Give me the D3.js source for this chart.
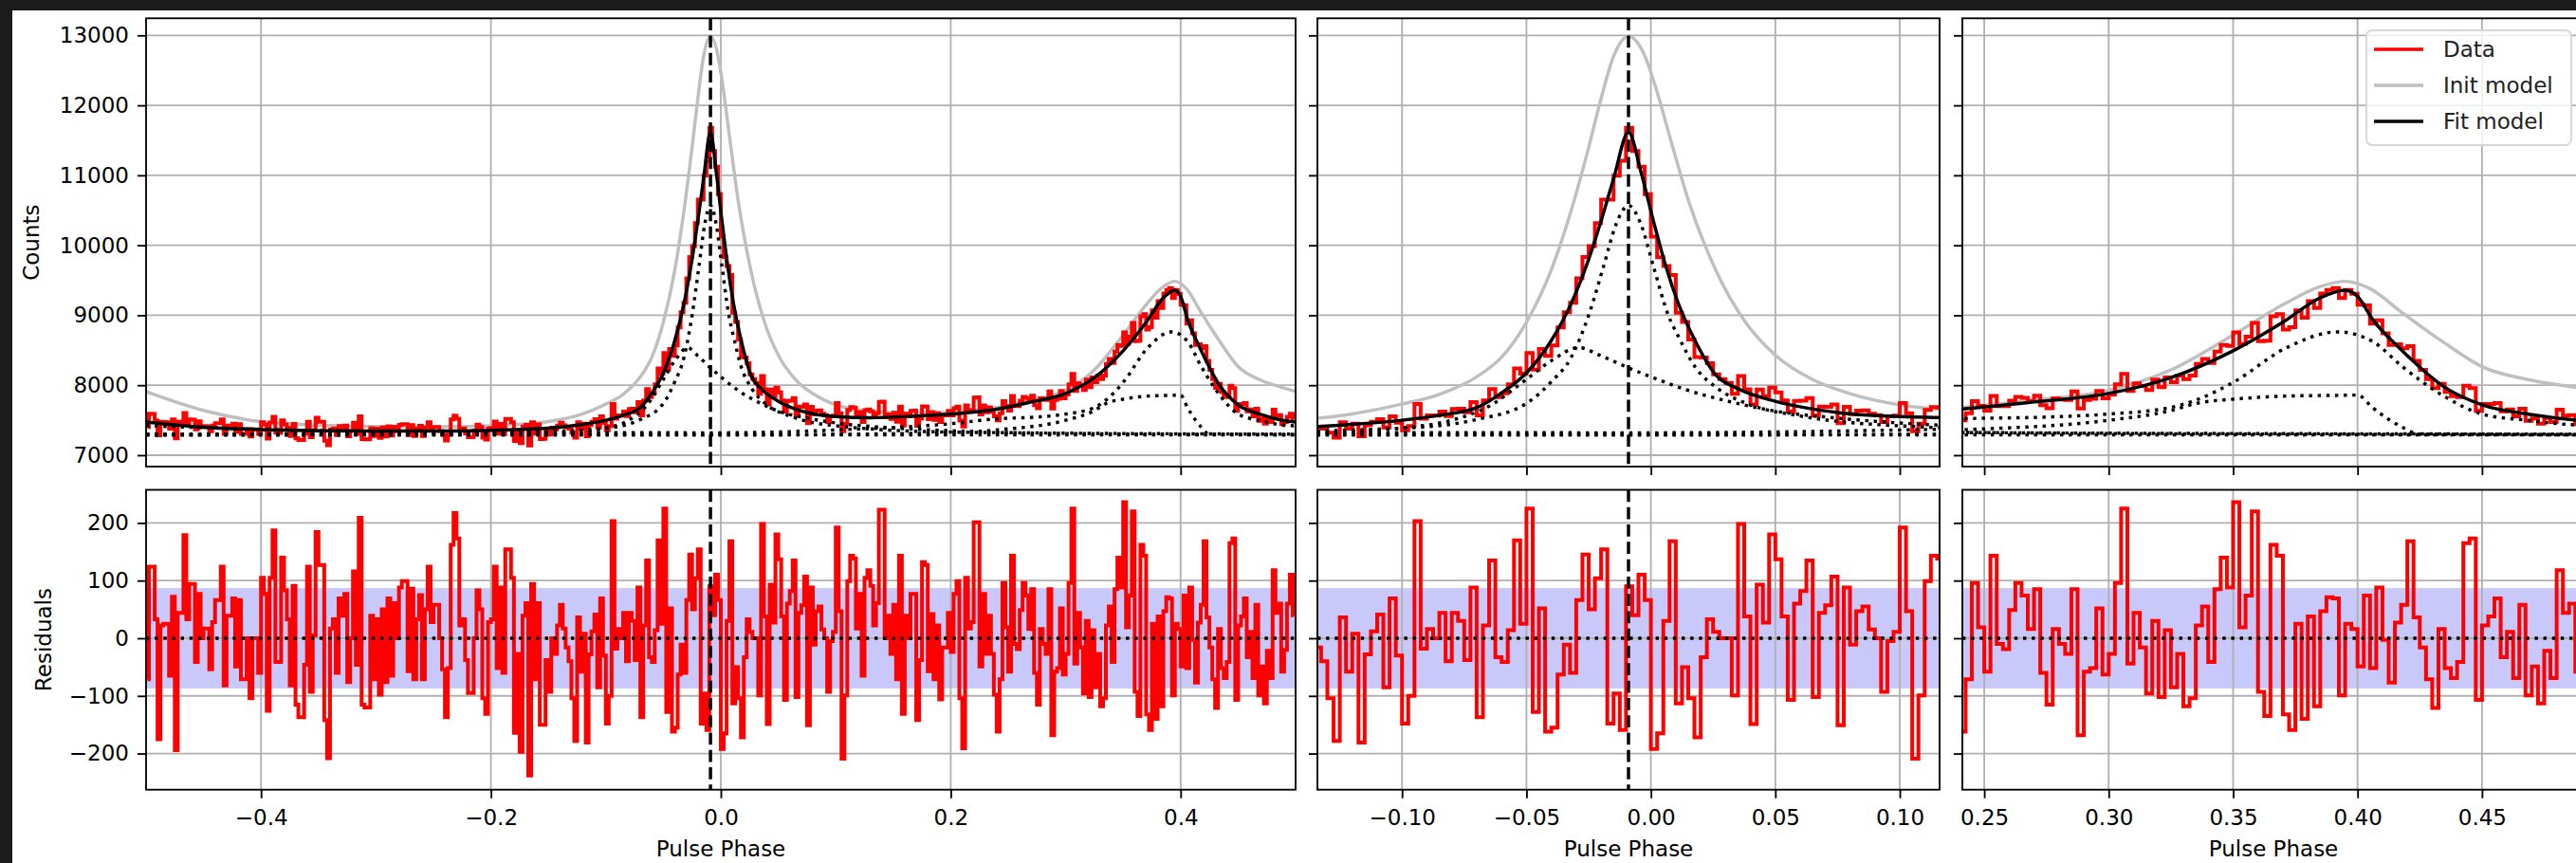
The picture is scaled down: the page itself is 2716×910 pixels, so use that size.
<!DOCTYPE html>
<html>
<head>
<meta charset="utf-8">
<script src="https://cdn.jsdelivr.net/npm/d3@7"></script>
<style>
  body { margin: 0; background: #1c1c1c; }
  svg { display: block; }
</style>
</head>
<body>
<svg id="chart" width="2716" height="910"></svg>
<script>

// ---- data ----
const phaseBinWidth = 0.0025;
const peakPhase = -0.009;
const residBand = 87;

// residuals per phase bin, left to right (-0.5 .. 0.5)
const residFarLeft = [-71, 124, 124, 33, -175, 22, 25, 25, -65, 72, -194, 44, 44,
    179, 33, 94, 94, -41, 77, 0, 17, 17, -54, 28, 66, 66,
    124, -82, 39, 39, 69, -49, 66, -71, -71, 0, -104, 0, 0,
    -60, 105, 77, -126, 105, 187, -41, -41, 140, 83, 33,
    -82, 91, -115, -137, -137, -46, 124, -93, 5, 184, 127, 127,
    -142, -208, 17, 33, -60, 69, 39, 77, -76, 0, 116];
const residLeft = [-46, 209, -115, -120, -120, 39, -71, 33, -98, 50, -76,
    69, -65, 61, 0, 88, 99, 99, -57, 86, -71, 33,
    75, -71, 50, 124, 28, 58, 58, 0, -54, -137, -52,
    162, 217, 173, 22, 33, -38, -95, -95, 0, 83, 50,
    -104, -131, 28, 33, 124, -52, 88, -60, 154, 154, 105,
    -164, -27, -197, 39, 61, -238, 94, -71, 61, -150, -150,
    -38, -93, 0, -27, 22, 58, 17];
const residCore = [-16, -40, -104, -178, 36, -58, 8, -181, -28, 12,
    41, -85, 69, -30, -148, -100, 203, -18, 16, 0,
    44, -40, 44, 30, -38, 88, -137, 22, 135, -33,
    -41, 14, 170, 25, 225, -128, 52, -162, -155, -63,
    -11, -60, 66, 145, 50, 104, 154, -148, -96, -159,
    90, 40, 110, 66, -192, -165, 30, 168, -113, -50,
    -104, -172, -33, 33, 11, 0, 0, -99, 198, 38,
    -149, 93, 27, 180, 137, 38, -107, 60, 82, 135,
    -102, 44, 57, 107, -151, 88, -11, 47, 55, 15,
    0, -93, -5, 11, 192, 47, -209, -99, 99, 143];
const residGap = [138, 17, 77, -65, 105, 118, 91, 22, 61, 223, 223,
    0, 39, -27, 58, -71, 143, -131, 39, 0, 77, 77,
    -142, -38, 132, 127, -57, 42, -71, 22, -106, -16, -16,
    44, -24, 77, 99, -104, -191, 105, 17, 28, 201, 201,
    -49, 77, -27, 39, -27, -98];
const residTail = [-162, -71, 96, 19, -58, 143, -10, -19, 49, 96,
    74, 16, 85, -60, -115, 16, -10, -27, 85, -168,
    -58, -52, 52, -63, -27, 96, 225, -44, 44, -16,
    -96, 30, -102, 14, -85, -27, -118, -104, 22, 55,
    -41, 85, 140, 88, 236, 19, 74, 220, -93, -135,
    162, 143, -132, -159, 25, -140, 38, -118, 47, 71,
    69, -99, 25, 16, -49, 74, -52, 88, -3, -77,
    27, 58, 168, 36, -16, -71, -121, 16, -52, -69,
    -41, 165, 173, -107, 22, 38, 69, -33, 11, -69,
    58, -99, -49, -113, -22, -69, 118, 44, 60, -58];
const residEdge = [-20, 60, 110, 40];

// fitted model
const fitPhase = [-0.5, -0.45, -0.4, -0.35, -0.3, -0.25, -0.2, -0.15, -0.12, -0.1,
    -0.085, -0.07, -0.06, -0.05, -0.04, -0.032, -0.025, -0.02, -0.015, -0.009,
    -0.004, 0.001, 0.006, 0.011, 0.018, 0.026, 0.035, 0.05, 0.075, 0.1,
    0.13, 0.17, 0.21, 0.24, 0.27, 0.3, 0.325, 0.35, 0.37, 0.385,
    0.395, 0.4, 0.406, 0.418, 0.434, 0.45, 0.47, 0.49, 0.5];
const fitCounts = [7475, 7400, 7365, 7350, 7345, 7345, 7355, 7385, 7440, 7499,
    7570, 7680, 7890, 8176, 8640, 9170, 9800, 10350, 10950, 11618,
    11050, 10350, 9700, 9170, 8620, 8150, 7950, 7770, 7610, 7553,
    7535, 7560, 7600, 7656, 7760, 7882, 8108, 8492, 8900, 9250,
    9359, 9270, 8943, 8492, 7995, 7720, 7580, 7495, 7475];

// initial model
const initPhase = [-0.5, -0.45, -0.4, -0.35, -0.3, -0.25, -0.2, -0.15, -0.12, -0.1,
    -0.085, -0.07, -0.06, -0.05, -0.04, -0.032, -0.025, -0.02, -0.015, -0.009,
    -0.003, 0.002, 0.008, 0.015, 0.026, 0.038, 0.05, 0.065, 0.08, 0.1,
    0.13, 0.17, 0.21, 0.24, 0.27, 0.3, 0.325, 0.35, 0.37, 0.385,
    0.395, 0.405, 0.418, 0.434, 0.45, 0.47, 0.49, 0.5];
const initCounts = [7910, 7640, 7480, 7430, 7410, 7405, 7420, 7480, 7590, 7730,
    7870, 8120, 8400, 8900, 9650, 10500, 11400, 12100, 12700, 12986,
    12750, 12250, 11500, 10650, 9650, 8900, 8430, 8080, 7880, 7720,
    7630, 7600, 7620, 7680, 7790, 7927, 8220, 8718, 9150, 9410,
    9485, 9380, 9034, 8627, 8266, 8070, 7960, 7910];

// fit components (dotted)
const baselinePhase = [-0.5, 0.5];
const baselineCounts = [7290, 7290];

const narrowPhase = [-0.5, -0.2, -0.1, -0.07, -0.05, -0.04, -0.032, -0.025, -0.019, -0.014,
    -0.009, -0.004, 0.001, 0.007, 0.011, 0.018, 0.027, 0.04, 0.06, 0.1, 0.2, 0.5];
const narrowCounts = [7300, 7315, 7385, 7510, 7740, 8050, 8400, 9000, 9700, 10300,
    10570, 10300, 9700, 9000, 8700, 8250, 7950, 7720, 7560, 7420, 7330, 7300];

const shoulderPhase = [-0.5, -0.2, -0.134, -0.1, -0.08, -0.065, -0.05, -0.04, -0.029, -0.02,
    -0.009, 0.0, 0.015, 0.03, 0.05, 0.075, 0.1, 0.15, 0.2, 0.3, 0.5];
const shoulderCounts = [7290, 7300, 7320, 7390, 7500, 7700, 8084, 8350, 8537, 8420,
    8248, 8120, 7925, 7780, 7630, 7530, 7460, 7390, 7350, 7310, 7295];

const hump2Phase = [-0.5, -0.3, 0.0, 0.1, 0.2, 0.241, 0.2735, 0.3, 0.3246, 0.336,
    0.35, 0.3715, 0.392, 0.406, 0.418, 0.434, 0.45, 0.468, 0.488, 0.5];
const hump2Counts = [7420, 7340, 7320, 7360, 7450, 7521, 7543, 7588, 7680, 7800,
    8040, 8537, 8763, 8627, 8266, 7859, 7588, 7499, 7431, 7420];

const plateauPhase = [-0.5, 0.0, 0.2, 0.241, 0.3, 0.3246, 0.336, 0.35, 0.3715, 0.392,
    0.4, 0.406, 0.413, 0.418, 0.425, 0.5];
const plateauCounts = [7290, 7290, 7320, 7363, 7499, 7634, 7746, 7800, 7845, 7855,
    7859, 7680, 7500, 7400, 7300, 7290];

const countTicks = [7000, 8000, 9000, 10000, 11000, 12000, 13000];
const residTicks = [-200, -100, 0, 100, 200];
const phaseTicksFull = [-0.4, -0.2, 0.0, 0.2, 0.4];
const phaseTicksPeak1 = [-0.10, -0.05, 0.00, 0.05, 0.10];
const phaseTicksPeak2 = [0.25, 0.30, 0.35, 0.40, 0.45];
const legendLabels = ['Data', 'Init model', 'Fit model'];

// ---- layout ----
const W = 2716, H = 910;
const FONT = '"DejaVu Sans", Verdana, sans-serif';
const FS = 23;
const LW = 3.45;
const DATA_LW = 4;
const TICK = 9;

const rows = [
    { name: 'counts', y0: 19.3, y1: 492, domain: [6837, 13244], ticks: countTicks, label: 'Counts', labelX: 33 },
    { name: 'resid', y0: 516.5, y1: 832.7, domain: [-262.7, 257.4], ticks: residTicks, label: 'Residuals', labelX: 46 }
];
const cols = [
    { x0: 154, x1: 1366, domain: [-0.5, 0.5], ticks: phaseTicksFull, fmt: d3.format('.1f') },
    { x0: 1389, x1: 2045, domain: [-0.134, 0.116], ticks: phaseTicksPeak1, fmt: d3.format('.2f') },
    { x0: 2069, x1: 2725, domain: [0.2412, 0.4912], ticks: phaseTicksPeak2, fmt: d3.format('.2f') }
];

const residuals = [].concat(residFarLeft, residLeft, residCore, residGap, residTail, residEdge);
const binCenters = residuals.map((r, j) => -0.5 + phaseBinWidth * (j + 0.5));
const fitAt = d3.scaleLinear().domain(fitPhase).range(fitCounts);
const counts = residuals.map((r, j) => fitAt(binCenters[j]) + r);

const components = [
    [baselinePhase, baselineCounts],
    [narrowPhase, narrowCounts],
    [shoulderPhase, shoulderCounts],
    [hump2Phase, hump2Counts],
    [plateauPhase, plateauCounts]
];

const svg = d3.select('#chart');
svg.append('rect').attr('width', W).attr('height', H).attr('fill', '#1c1c1c');
svg.append('rect').attr('x', 13).attr('y', 11).attr('width', W).attr('height', H).attr('fill', '#ffffff');
const defs = svg.append('defs');

function styleAxis(g, showLabels) {
    g.select('.domain').remove();
    g.selectAll('.tick line').attr('stroke', '#000').attr('stroke-width', 1.84);
    g.selectAll('.tick text')
        .attr('fill', '#000')
        .style('font-family', FONT)
        .style('font-size', FS + 'px')
        .style('display', showLabels ? null : 'none');
}

function drawPanel(col, row, ci, ri) {
    const x = d3.scaleLinear().domain(col.domain).range([col.x0, col.x1]);
    const y = d3.scaleLinear().domain(row.domain).range([row.y1, row.y0]);
    const clipId = `clip-${ri}-${ci}`;
    defs.append('clipPath').attr('id', clipId)
        .append('rect')
        .attr('x', col.x0).attr('y', row.y0)
        .attr('width', col.x1 - col.x0).attr('height', row.y1 - row.y0);

    const g = svg.append('g');
    const plot = g.append('g').attr('clip-path', `url(#${clipId})`);

    if (row.name === 'resid') {
        plot.append('rect')
            .attr('x', col.x0).attr('width', col.x1 - col.x0)
            .attr('y', y(residBand)).attr('height', y(-residBand) - y(residBand))
            .attr('fill', '#c8c8fa');
    }

    // grid
    plot.append('g').selectAll('line.gx').data(col.ticks).enter()
        .append('line').attr('class', 'gx')
        .attr('x1', d => x(d)).attr('x2', d => x(d))
        .attr('y1', row.y0).attr('y2', row.y1)
        .attr('stroke', '#b0b0b0').attr('stroke-width', 1.84);
    plot.append('g').selectAll('line.gy').data(row.ticks).enter()
        .append('line').attr('class', 'gy')
        .attr('y1', d => y(d)).attr('y2', d => y(d))
        .attr('x1', col.x0).attr('x2', col.x1)
        .attr('stroke', '#b0b0b0').attr('stroke-width', 1.84);

    const stepLine = d3.line().curve(d3.curveStep).x((d, j) => x(binCenters[j]));
    const smooth = d3.line().curve(d3.curveMonotoneX);

    if (row.name === 'counts') {
        plot.append('path')
            .attr('d', smooth(initPhase.map((p, i) => [x(p), y(initCounts[i])])))
            .attr('fill', 'none').attr('stroke', '#bfbfbf').attr('stroke-width', LW);

        plot.append('path')
            .attr('d', stepLine.y(d => y(d))(counts))
            .attr('fill', 'none').attr('stroke', '#ff0000').attr('stroke-width', DATA_LW);

        components.forEach(function (c) {
            plot.append('path')
                .attr('d', smooth(c[0].map((p, i) => [x(p), y(c[1][i])])))
                .attr('fill', 'none').attr('stroke', '#000').attr('stroke-width', LW)
                .attr('stroke-dasharray', `${LW},${LW * 1.65}`);
        });

        plot.append('path')
            .attr('d', smooth(fitPhase.map((p, i) => [x(p), y(fitCounts[i])])))
            .attr('fill', 'none').attr('stroke', '#000').attr('stroke-width', LW);
    } else {
        plot.append('path')
            .attr('d', stepLine.y(d => y(d))(residuals))
            .attr('fill', 'none').attr('stroke', '#ff0000').attr('stroke-width', DATA_LW);

        plot.append('line')
            .attr('x1', col.x0).attr('x2', col.x1)
            .attr('y1', y(0)).attr('y2', y(0))
            .attr('stroke', '#000').attr('stroke-width', LW)
            .attr('stroke-dasharray', `${LW},${LW * 1.65}`);
    }

    if (peakPhase > col.domain[0] && peakPhase < col.domain[1]) {
        plot.append('line')
            .attr('x1', x(peakPhase)).attr('x2', x(peakPhase))
            .attr('y1', row.y0).attr('y2', row.y1)
            .attr('stroke', '#000').attr('stroke-width', LW)
            .attr('stroke-dasharray', `${LW * 3.7},${LW * 1.6}`);
    }

    // ticks
    g.append('g').attr('transform', `translate(0,${row.y1})`)
        .call(d3.axisBottom(x).tickValues(col.ticks).tickSize(TICK).tickPadding(12)
            .tickFormat(d => col.fmt(d)))
        .call(styleAxis, row.name === 'resid');
    g.append('g').attr('transform', `translate(${col.x0},0)`)
        .call(d3.axisLeft(y).tickValues(row.ticks).tickSize(TICK).tickPadding(9)
            .tickFormat(d3.format('d')))
        .call(styleAxis, ci === 0);

    g.append('rect')
        .attr('x', col.x0).attr('y', row.y0)
        .attr('width', col.x1 - col.x0).attr('height', row.y1 - row.y0)
        .attr('fill', 'none').attr('stroke', '#000').attr('stroke-width', 1.84);

    if (ri === 1) {
        g.append('text')
            .attr('x', (col.x0 + col.x1) / 2).attr('y', 903)
            .attr('text-anchor', 'middle')
            .style('font-family', FONT).style('font-size', FS + 'px')
            .text('Pulse Phase');
    }
    if (ci === 0) {
        const cy = (row.y0 + row.y1) / 2;
        g.append('text')
            .attr('transform', `translate(${row.labelX},${cy}) rotate(-90)`)
            .attr('text-anchor', 'middle').attr('dominant-baseline', 'central')
            .style('font-family', FONT).style('font-size', FS + 'px')
            .text(row.label);
    }
}

rows.forEach(function (row, ri) {
    cols.forEach(function (col, ci) {
        drawPanel(col, row, ci, ri);
    });
});

// legend (upper right of the last counts panel)
function drawLegend() {
    const lg = svg.append('g');
    lg.append('rect')
        .attr('x', 2495).attr('y', 32).attr('width', 216).attr('height', 121)
        .attr('rx', 6).attr('ry', 6)
        .attr('fill', 'rgba(255,255,255,0.8)').attr('stroke', '#d6d6d6').attr('stroke-width', 1.8);
    const colors = ['#ff0000', '#bfbfbf', '#000000'];
    legendLabels.forEach(function (label, i) {
        const ly = 52 + i * 38;
        lg.append('line')
            .attr('x1', 2503).attr('x2', 2555).attr('y1', ly).attr('y2', ly)
            .attr('stroke', colors[i]).attr('stroke-width', LW);
        lg.append('text')
            .attr('x', 2576).attr('y', ly + 8)
            .style('font-family', FONT).style('font-size', FS + 'px')
            .attr('fill', '#222')
            .text(label);
    });
}
drawLegend();

</script>
</body>
</html>
